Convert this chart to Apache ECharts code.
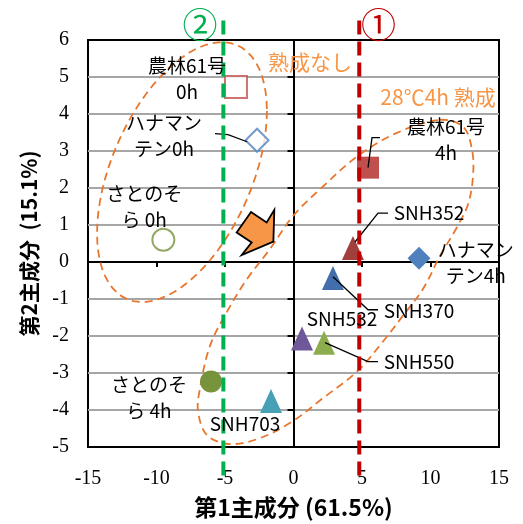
<!DOCTYPE html>
<html>
<head>
<meta charset="utf-8">
<title>PCA plot</title>
<script src="https://cdn.jsdelivr.net/npm/echarts@6/dist/echarts.min.js"></script>
<style>
  html, body {margin: 0; padding: 0; background: #fff;}
  #main {width: 523px; height: 524px;}
</style>
</head>
<body>
<div id="main"></div>
<script type="text/javascript">
// sample scores (PC1, PC2)
var sampleNames = ['農林61号 0h', 'ハナマンテン0h', 'さとのそら 0h', '農林61号 4h', 'SNH352',
                   'ハナマンテン4h', 'SNH370', 'SNH532', 'SNH550', 'さとのそら 4h', 'SNH703'];
var pc1 = [-4.2, -2.66, -9.5, 5.44, 4.34, 9.16, 2.88, 0.62, 2.23, -6.02, -1.64];
var pc2 = [4.73, 3.29, 0.60, 2.55, 0.38, 0.10, -0.43, -2.07, -2.18, -3.23, -3.76];

// text next to each sample
var labelText = ['農林61号\n0h', 'ハナマン\nテン0h', 'さとのそ\nら 0h', '農林61号\n4h', 'SNH352',
                 'ハナマン\nテン4h', 'SNH370', 'SNH532', 'SNH550', 'さとのそ\nら 4h', 'SNH703'];
var labelX = [-7.77, -9.45, -10.9, 11.13, 9.89, 13.3, 9.16, 3.54, 9.16, -10.55, -3.54];
var labelY = [4.95, 3.40, 1.49, 3.31, 1.34, -0.01, -1.32, -1.53, -2.69, -3.68, -4.38];

// leader lines (data units)
var leaders = [
  [[-5.73, 3.47], [-4.78, 3.44], [-3.39, 3.25]],
  [[5.44, 2.55], [5.73, 3.36], [6.31, 3.36]],
  [[4.49, 0.54], [6.17, 1.32], [6.90, 1.32]],
  [[2.88, -0.40], [5.44, -1.29], [6.17, -1.29]],
  [[2.30, -2.18], [5.44, -2.69], [6.17, -2.69]]
];

// the two cut lines
var cutX = [4.8, -5.12];
var cutName = ['①', '②'];
var cutColor = ['#C00000', '#00B050'];

// group outlines
var groupText = ['熟成なし', '28℃4h 熟成'];
var groupX = [1.2, 10.55];
var groupY = [5.41, 4.46];
// 0h group: ellipse centre and two half axes
var ell1 = {c: [-8.14, 2.43], a: [6.20, 1.65], b: [0, -3.10]};
// 4h group outline
var ell2X = [10.69, 12.37, 13.03, 13.10, 12.74, 11.93, 10.69, 9.45, 7.99, 6.53, 4.64, 2.15, -0.04,
             -2.45, -4.64, -6.31, -6.97, -6.82, -6.09, -4.85, -3.39, -1.72, -0.04, 2.15, 4.64, 7.55];
var ell2Y = [3.84, 3.66, 3.04, 2.31, 1.56, 0.94, 0.16, -0.73, -1.45, -2.15, -2.96, -3.68, -4.30,
             -4.76, -4.92, -4.68, -4.03, -3.41, -2.26, -1.34, -0.46, 0.35, 1.24, 2.04, 2.85, 3.49];
// block arrow
var arrowX = [-3.10, -1.96, -1.40, -1.47, -3.78, -3.05, -4.15];
var arrowY = [1.35, 1.07, 1.41, 0.55, 0.19, 0.53, 0.80];

var markers = [
  {symbol: 'rect', size: 22, fill: '#fff', border: '#C0504D'},
  {symbol: 'diamond', size: 23, fill: '#fff', border: '#4F81BD'},
  {symbol: 'circle', size: 22, fill: '#fff', border: '#77933C'},
  {symbol: 'rect', size: 22, fill: '#C0504D'},
  {symbol: 'triangle', size: [22, 24], fill: '#A23F3D'},
  {symbol: 'diamond', size: 23, fill: '#4F81BD'},
  {symbol: 'triangle', size: [22, 24], fill: '#426FAB'},
  {symbol: 'triangle', size: [22, 24], fill: '#6F5899'},
  {symbol: 'triangle', size: [22, 24], fill: '#8CAD4E'},
  {symbol: 'circle', size: 22, fill: '#77933C'},
  {symbol: 'triangle', size: [22, 24], fill: '#47A0B6'}
];

var jpFont = '"Noto Sans CJK JP", sans-serif';
var numFont = '"Liberation Serif", "Times New Roman", serif';

var myChart = echarts.init(document.getElementById('main'));

var series = [];
for (var i = 0; i < sampleNames.length; i++) {
  var m = markers[i];
  series.push({
    name: sampleNames[i],
    type: 'scatter',
    xAxisIndex: 0, yAxisIndex: 0,
    symbol: m.symbol,
    symbolSize: m.size,
    itemStyle: m.border ? {color: m.fill, borderColor: m.border, borderWidth: 2}
                        : {color: m.fill, opacity: 1},
    data: [[pc1[i], pc2[i]]],
    z: 3
  });
}

// 0h ellipse
series.push({
  type: 'custom', silent: true, z: 2,
  data: [ell1.c],
  renderItem: function (params, api) {
    var pts = [];
    for (var k = 0; k < 72; k++) {
      var t = k / 72 * Math.PI * 2;
      pts.push(api.coord([
        ell1.c[0] + ell1.a[0] * Math.cos(t) + ell1.b[0] * Math.sin(t),
        ell1.c[1] + ell1.a[1] * Math.cos(t) + ell1.b[1] * Math.sin(t)
      ]));
    }
    return {type: 'polygon', shape: {points: pts},
      style: {fill: 'none', stroke: '#E8772E', lineWidth: 1.8, lineDash: [8, 5]}};
  }
});

// 4h outline
series.push({
  type: 'custom', silent: true, z: 2,
  data: [[ell2X[0], ell2Y[0]]],
  renderItem: function (params, api) {
    var pts = ell2X.map(function (x, k) { return api.coord([x, ell2Y[k]]); });
    return {type: 'polygon', shape: {points: pts, smooth: 0.35},
      style: {fill: 'none', stroke: '#E8772E', lineWidth: 1.8, lineDash: [8, 5]}};
  }
});

// arrow
series.push({
  type: 'custom', silent: true, z: 4,
  data: [[arrowX[0], arrowY[0]]],
  renderItem: function (params, api) {
    var pts = arrowX.map(function (x, k) { return api.coord([x, arrowY[k]]); });
    return {type: 'polygon', shape: {points: pts},
      style: {fill: '#F79646', stroke: '#000', lineWidth: 1.8, lineJoin: 'miter'}};
  }
});

// leader lines
series.push({
  type: 'custom', silent: true, z: 5,
  data: leaders.map(function (l) { return l[0]; }),
  renderItem: function (params, api) {
    var pts = leaders[params.dataIndex].map(function (p) { return api.coord(p); });
    return {type: 'polyline', shape: {points: pts},
      style: {fill: 'none', stroke: '#000', lineWidth: 1.3}};
  }
});

// dashed cut lines with circled numbers
series.push({
  type: 'custom', silent: true, z: 6,
  data: cutX.map(function (x) { return [x, 0]; }),
  renderItem: function (params, api) {
    var i = params.dataIndex;
    var top = api.coord([cutX[i], 6.53]);
    var bot = api.coord([cutX[i], -5.92]);
    var lab = api.coord([cutX[i] + (i === 0 ? 1.4 : -1.7), 6.41]);
    return {type: 'group', children: [
      {type: 'line', shape: {x1: top[0], y1: top[1], x2: bot[0], y2: bot[1]},
        style: {stroke: cutColor[i], lineWidth: 4, lineDash: [14, 7]}},
      {type: 'text', x: lab[0], y: lab[1],
        style: {text: cutName[i], fill: cutColor[i], fontSize: 35, fontFamily: jpFont,
          align: 'center', verticalAlign: 'middle'}}
    ]};
  }
});

// sample labels
series.push({
  type: 'custom', silent: true, z: 7,
  data: labelX.map(function (x, k) { return [x, labelY[k]]; }),
  renderItem: function (params, api) {
    var p = api.coord([api.value(0), api.value(1)]);
    return {type: 'text', x: p[0], y: p[1],
      style: {text: labelText[params.dataIndex], fill: '#000', fontSize: 19, fontFamily: jpFont,
        align: 'center', verticalAlign: 'middle', lineHeight: 26}};
  }
});

// group captions
series.push({
  type: 'custom', silent: true, z: 7,
  data: groupX.map(function (x, k) { return [x, groupY[k]]; }),
  renderItem: function (params, api) {
    var p = api.coord([api.value(0), api.value(1)]);
    return {type: 'text', x: p[0], y: p[1],
      style: {text: groupText[params.dataIndex], fill: '#F79646', fontSize: 21, fontFamily: jpFont,
        align: 'center', verticalAlign: 'middle'}};
  }
});

var option = {
  animation: false,
  grid: {left: 88, right: 24, top: 40, bottom: 75, show: true,
    borderColor: '#000', borderWidth: 2, backgroundColor: 'transparent'},
  xAxis: [
    {
      type: 'value', min: -15, max: 15, interval: 5, position: 'bottom',
      axisLine: {show: false, onZero: false},
      axisTick: {show: false},
      splitLine: {show: false},
      axisLabel: {color: '#000', fontSize: 20, fontFamily: numFont, margin: 22},
      name: '第1主成分 (61.5%)', nameLocation: 'middle', nameGap: 49,
      nameTextStyle: {color: '#000', fontSize: 23, fontWeight: 'bold', fontFamily: jpFont}
    },
    {
      type: 'value', min: -15, max: 15, interval: 5, position: 'bottom',
      axisLine: {show: true, onZero: true, onZeroAxisIndex: 0, lineStyle: {color: '#000', width: 2}},
      axisTick: {show: true, length: 5, lineStyle: {color: '#000', width: 2}},
      axisLabel: {show: false},
      splitLine: {show: false}
    }
  ],
  yAxis: [
    {
      type: 'value', min: -5, max: 6, interval: 1, position: 'left',
      axisLine: {show: false, onZero: false},
      axisTick: {show: false},
      splitLine: {show: true, showMinLine: false, showMaxLine: false,
        lineStyle: {color: '#A6A6A6', width: 2}},
      axisLabel: {color: '#000', fontSize: 20, fontFamily: numFont, margin: 19},
      name: '第2主成分  (15.1%)', nameLocation: 'middle', nameGap: 48,
      nameTextStyle: {color: '#000', fontSize: 21, fontWeight: 'bold', fontFamily: jpFont}
    },
    {
      type: 'value', min: -5, max: 6, interval: 1, position: 'left',
      axisLine: {show: true, onZero: true, onZeroAxisIndex: 0, lineStyle: {color: '#000', width: 2}},
      axisTick: {show: true, length: 6, lineStyle: {color: '#000', width: 2}},
      axisLabel: {show: false},
      splitLine: {show: false}
    }
  ],
  series: series
};
myChart.setOption(option);
</script>
</body>
</html>
